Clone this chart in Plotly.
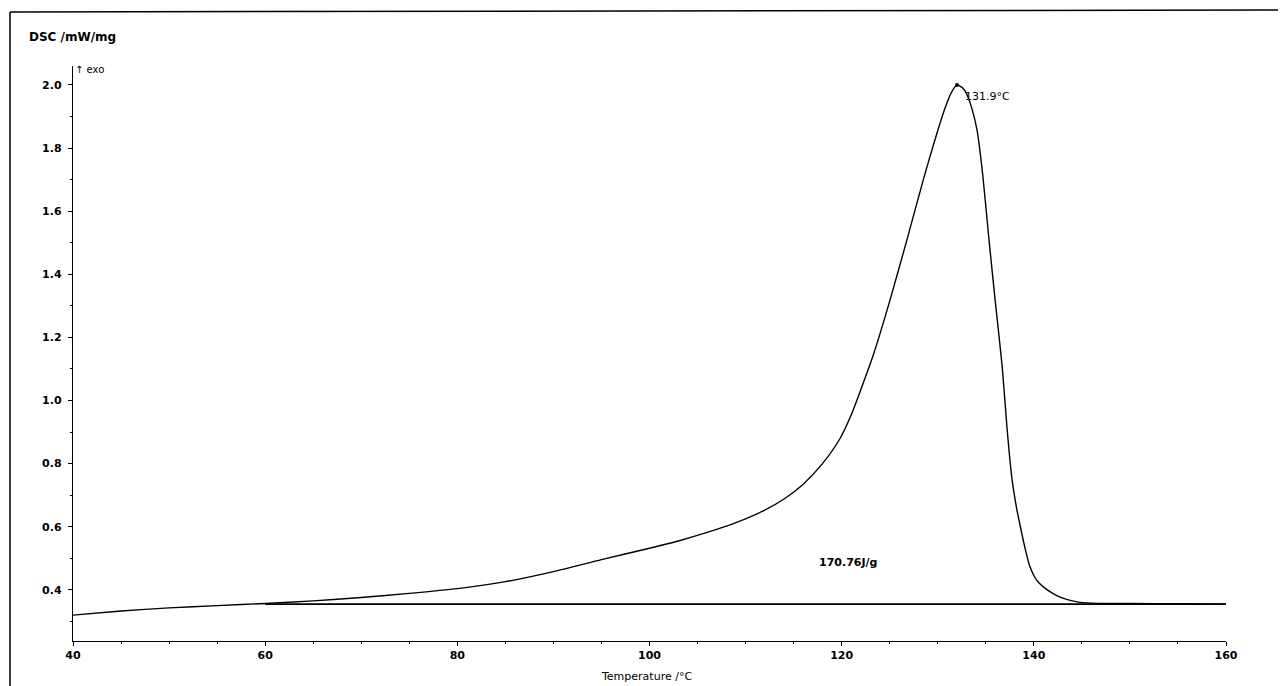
import plotly.graph_objects as go

# Data
temperature = [40, 45, 50, 55, 60, 65, 70, 75, 80, 85, 90, 95, 100, 103, 106, 109,
               112, 114, 116, 118, 119.8, 121, 122, 123.3, 125, 126.8, 128.5, 129.5,
               130.2, 130.8, 131.4, 132, 132.6, 133.1, 133.6, 134.1, 134.7, 135.3,
               136, 136.7, 137.2, 137.7, 138.2, 138.6, 139.1, 139.6, 140.1, 140.6,
               141.4, 142.5, 143.5, 144.5, 146, 150, 155, 160]
dsc = [0.320, 0.333, 0.343, 0.350, 0.357, 0.365, 0.376, 0.389, 0.404, 0.426, 0.458,
       0.496, 0.532, 0.555, 0.582, 0.613, 0.653, 0.688, 0.735, 0.800, 0.878, 0.955,
       1.035, 1.145, 1.315, 1.51, 1.70, 1.805, 1.875, 1.93, 1.975, 2.0, 1.99, 1.965,
       1.92, 1.855, 1.71, 1.52, 1.31, 1.11, 0.916, 0.758, 0.66, 0.60, 0.53, 0.473,
       0.44, 0.42, 0.40, 0.38, 0.369, 0.362, 0.358, 0.357, 0.356, 0.355]

baseline_x = [60, 160]
baseline_y = [0.355, 0.355]

peak_x = [132.0]
peak_y = [2.0]

x_ticks = [40, 60, 80, 100, 120, 140, 160]
y_ticks = [0.4, 0.6, 0.8, 1.0, 1.2, 1.4, 1.6, 1.8, 2.0]

FONT = "DejaVu Sans"

# page offset compensation (browser body margin of 8 px)
OFF = 8
PL, PT, PW, PH = 73, 66, 1153, 575   # plot area on screen


def px(x):
    return (x - PL) / PW


def py(y):
    return (PT + PH - y) / PH


fig = go.Figure()
fig.add_trace(go.Scatter(x=baseline_x, y=baseline_y, mode="lines",
                         line=dict(color="black", width=1.6), hoverinfo="skip"))
fig.add_trace(go.Scatter(x=temperature, y=dsc, mode="lines",
                         line=dict(color="black", width=1.4, shape="spline", smoothing=0.6)))
fig.add_trace(go.Scatter(x=peak_x, y=peak_y, mode="markers",
                         marker=dict(color="black", size=4)))

tickfont = dict(family=FONT, size=11, color="black", weight="bold")

fig.update_layout(
    width=1286 - OFF, height=686 - OFF,
    margin=dict(l=PL - OFF, r=1286 - PL - PW, t=PT - OFF, b=686 - PT - PH),
    paper_bgcolor="white", plot_bgcolor="white",
    showlegend=False,
    font=dict(family=FONT, size=11, color="black"),
    xaxis=dict(range=[40, 160], tickvals=x_ticks, ticks="outside", ticklen=4,
               tickcolor="black", showline=True, linecolor="black", linewidth=1.4,
               showgrid=False, zeroline=False, mirror=False, tickfont=tickfont,
               minor=dict(ticks="outside", ticklen=2, dtick=5, tickcolor="black")),
    yaxis=dict(range=[0.238, 2.06], tickvals=y_ticks, ticktext=[f"{v:.1f}" for v in y_ticks],
               ticks="outside", ticklen=4, tickcolor="black", showline=True,
               linecolor="black", linewidth=1.4, showgrid=False, zeroline=False,
               tickfont=tickfont, ticklabelstandoff=4,
               minor=dict(ticks="outside", ticklen=2, dtick=0.1, tickcolor="black")),
)

annotations = [
    dict(text="131.9°C", x=132.6, y=1.962, xref="x", yref="y", xanchor="left",
         yanchor="middle", showarrow=False, font=dict(size=11)),
    dict(text="170.76J/g", x=120.7, y=0.486, xref="x", yref="y", xanchor="center",
         yanchor="middle", showarrow=False, font=dict(size=11, weight="bold")),
    dict(text="DSC /mW/mg", x=px(27), y=py(37), xref="paper", yref="paper",
         xanchor="left", yanchor="middle", showarrow=False,
         font=dict(size=12, weight="bold")),
    dict(text="↑ exo", x=px(73), y=py(69), xref="paper", yref="paper",
         xanchor="left", yanchor="middle", showarrow=False, font=dict(size=10)),
    dict(text="Temperature /°C", x=px(646), y=py(676), xref="paper", yref="paper",
         xanchor="center", yanchor="middle", showarrow=False, font=dict(size=11)),
]
fig.update_layout(annotations=annotations)

# scanned page frame (left and top edges)
fig.add_shape(type="line", xref="paper", yref="paper",
              x0=px(10), x1=px(10), y0=py(686), y1=py(12),
              line=dict(color="black", width=1.5))
fig.add_shape(type="line", xref="paper", yref="paper",
              x0=px(10), x1=px(1286), y0=py(12), y1=py(10),
              line=dict(color="black", width=1.5))

fig.write_html("out.html")
